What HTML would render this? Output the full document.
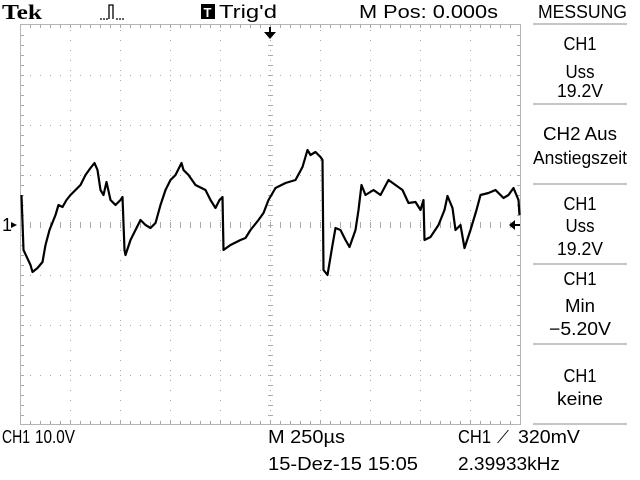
<!DOCTYPE html>
<html><head><meta charset="utf-8"><style>
html,body{margin:0;padding:0;background:#fff;}
svg{display:block;font-family:"Liberation Sans Narrow","Liberation Sans",sans-serif;}
text{font-size:18px;fill:#000;}
</style></head><body>
<svg id="scope" width="640" height="480" viewBox="0 0 640 480" xmlns="http://www.w3.org/2000/svg">
<rect width="640" height="480" fill="#fff"/>
<g id="grid"></g>
<rect x="20.5" y="24.5" width="500" height="400" fill="none" stroke="#b4b4b4" stroke-width="1"/>
<polyline id="trace" fill="none" stroke="#000" stroke-width="2.2" stroke-linejoin="round"/>
<text x="2" y="19" style="font-family:'Liberation Serif',serif;font-weight:bold;font-size:21px" textLength="40" lengthAdjust="spacingAndGlyphs">Tek</text>
<path d="M100 19h2M103 19h2M106 19h2M109 19V5h4v14M116 19h2M119 19h2M122 19h2" stroke="#000" stroke-width="1.3" fill="none"/>
<rect x="201" y="4" width="14" height="15" fill="#000"/>
<text x="203.5" y="17" style="font-size:13px;fill:#fff;font-weight:bold">T</text>
<text x="219" y="18" textLength="58" lengthAdjust="spacingAndGlyphs">Trig'd</text>
<text x="359" y="18" textLength="139" lengthAdjust="spacingAndGlyphs">M Pos: 0.000s</text>
<text x="538" y="18" textLength="89" lengthAdjust="spacingAndGlyphs">MESSUNG</text>
<path d="M264 32h12l-6 7z M269 27h2v6h-2z" fill="#000"/>
<text x="2" y="231">1</text>
<path d="M11 222l6 3-6 3z" fill="#000"/>
<path d="M509 225l6-5v10z M513 224h7v2h-7z" fill="#000"/>
<g stroke="#b4b4b4" stroke-width="1.5">
<line x1="533" y1="24" x2="627" y2="24"/><line x1="533" y1="104" x2="627" y2="104"/><line x1="533" y1="184" x2="627" y2="184"/><line x1="533" y1="264" x2="627" y2="264"/><line x1="533" y1="344" x2="627" y2="344"/><line x1="533" y1="424" x2="627" y2="424"/>
</g>
<g text-anchor="middle">
<text x="580" y="50" textLength="33" lengthAdjust="spacingAndGlyphs">CH1</text>
<text x="580" y="78" textLength="29" lengthAdjust="spacingAndGlyphs">Uss</text>
<text x="580" y="97" textLength="46" lengthAdjust="spacingAndGlyphs">19.2V</text>
<text x="580" y="140" textLength="74" lengthAdjust="spacingAndGlyphs">CH2 Aus</text>
<text x="580" y="164" textLength="94" lengthAdjust="spacingAndGlyphs">Anstiegszeit</text>
<text x="580" y="210" textLength="33" lengthAdjust="spacingAndGlyphs">CH1</text>
<text x="580" y="232" textLength="29" lengthAdjust="spacingAndGlyphs">Uss</text>
<text x="580" y="255" textLength="46" lengthAdjust="spacingAndGlyphs">19.2V</text>
<text x="580" y="285" textLength="33" lengthAdjust="spacingAndGlyphs">CH1</text>
<text x="580" y="312" textLength="30" lengthAdjust="spacingAndGlyphs">Min</text>
<text x="580" y="335" textLength="62" lengthAdjust="spacingAndGlyphs">−5.20V</text>
<text x="580" y="382" textLength="33" lengthAdjust="spacingAndGlyphs">CH1</text>
<text x="580" y="405" textLength="46" lengthAdjust="spacingAndGlyphs">keine</text>
</g>
<text x="2" y="443" textLength="28" lengthAdjust="spacingAndGlyphs">CH1</text>
<text x="35" y="443" textLength="40" lengthAdjust="spacingAndGlyphs">10.0V</text>
<text x="268" y="443" textLength="77" lengthAdjust="spacingAndGlyphs">M 250µs</text>
<text x="458" y="443" textLength="33" lengthAdjust="spacingAndGlyphs">CH1</text>
<text x="497" y="443" textLength="12" lengthAdjust="spacingAndGlyphs">⟋</text>
<text x="518" y="443" textLength="62" lengthAdjust="spacingAndGlyphs">320mV</text>
<text x="268" y="470" textLength="150" lengthAdjust="spacingAndGlyphs">15-Dez-15 15:05</text>
<text x="458" y="470" textLength="102" lengthAdjust="spacingAndGlyphs">2.39933kHz</text>
</svg>
<script>
const timeUs = [-1245,-1235,-1200,-1190,-1165,-1140,-1125,-1105,-1075,-1060,-1040,-1020,-1000,-975,-950,-925,-900,-880,-865,-850,-835,-820,-800,-775,-750,-740,-730,-725,-700,-675,-650,-625,-600,-575,-550,-525,-500,-475,-445,-435,-410,-375,-325,-300,-275,-255,-240,-235,-200,-150,-125,-100,-60,-35,-10,25,75,125,160,185,200,225,250,260,265,285,310,325,350,375,395,425,440,455,475,515,550,590,625,660,690,725,750,765,770,800,840,870,885,910,925,950,970,1000,1030,1050,1090,1125,1165,1190,1215,1240,1245];
const voltsV = [6,-5,-8,-9.4,-8.6,-7.4,-4,-1,2,4,3.6,5,6,7,8,10,11.4,12.4,11,7,6,8.6,5,4,5,5.6,-5,-6,-3,-1,1,0,-0.6,0.4,4,7,9,10,12.4,11,10,8,7,5,3.4,5,5.6,-5,-4,-3,-2.6,-1,1,2.4,5,7.4,8.4,9,11.6,15,14,14.6,13.6,13,-9,-10,-4,-0.6,-1,-3,-4.4,-1,3,8,6,7,6,9,8,7,4.4,4.6,3,5,-3,-2.4,0,3,5.8,3.4,-1,0,-4.6,-1,3,6,6.4,7,5.4,6,7.4,5,2];
const usPerDiv = 250, vPerDiv = 10, px = 50, cx = 270.5, cy = 225;
function xScale(t){return cx + t/usPerDiv*px;}
function yScale(v){return cy - v/vPerDiv*px;}
const n = Math.min(timeUs.length, voltsV.length);
const pts = [];
for(let i=0;i<n;i++) pts.push(xScale(timeUs[i]).toFixed(1)+','+yScale(voltsV[i]).toFixed(1));
document.getElementById('trace').setAttribute('points', pts.join(' '));
const g = document.getElementById('grid');
const NS='http://www.w3.org/2000/svg';
let d='';
for(let i=1;i<10;i++){const x=20+i*50; for(let y=30;y<425;y+=10) d+='M'+x+' '+y+'h1v1h-1z';}
for(let j=1;j<8;j++){const y=25+j*50; for(let x=30;x<520;x+=10) d+='M'+x+' '+y+'h1v1h-1z';}
for(let x=30;x<520;x+=10) d+='M'+x+' 222h1v6h-1z';
for(let y=35;y<425;y+=10) d+='M268 '+y+'h5v1h-5z';
for(let x=30;x<520;x+=10){d+='M'+x+' 25h1v3h-1z';d+='M'+x+' 421h1v3h-1z';}
for(let y=35;y<425;y+=10){d+='M21 '+y+'h3v1h-3z';d+='M517 '+y+'h3v1h-3z';}
const p=document.createElementNS(NS,'path');
p.setAttribute('d',d);p.setAttribute('fill','#a8a8a8');


g.appendChild(p);
</script>
</body></html>
